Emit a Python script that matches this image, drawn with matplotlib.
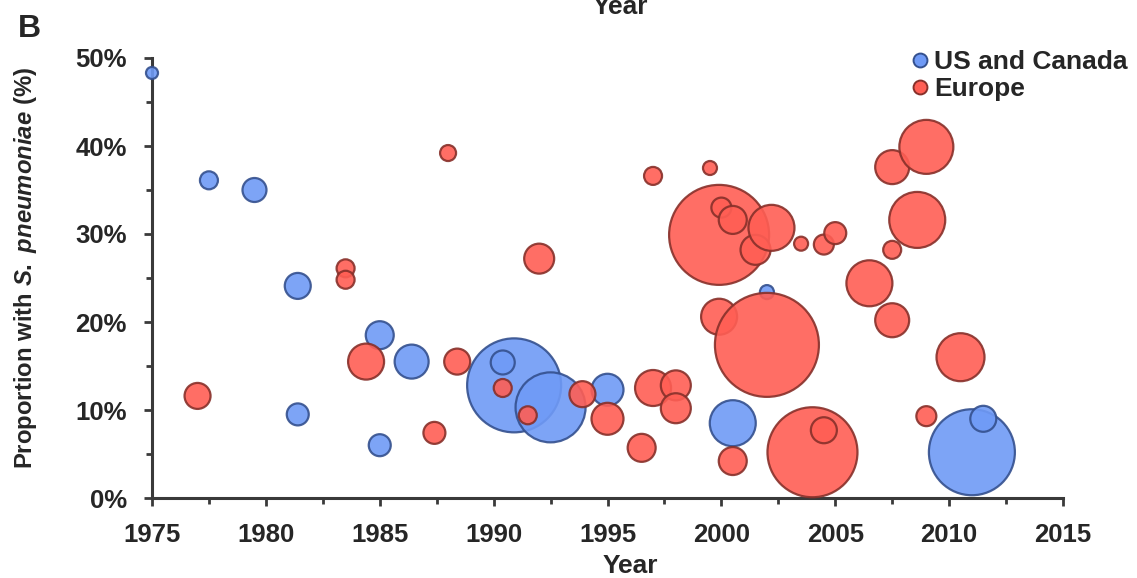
import matplotlib
matplotlib.use("Agg")
import matplotlib.pyplot as plt
from matplotlib.ticker import MultipleLocator, FuncFormatter
from matplotlib.lines import Line2D
import numpy as np

plt.rcParams["font.family"] = ["Liberation Sans", "DejaVu Sans"]
plt.rcParams["mathtext.fontset"] = "custom"
plt.rcParams["mathtext.it"] = "Liberation Sans:bold:italic"
plt.rcParams["mathtext.rm"] = "Liberation Sans:bold"

# US and Canada studies: year, proportion (%), relative bubble size
us_year = [1975.0, 1977.5, 1979.5, 1981.4, 1981.4, 1985.0, 1985.0, 1986.4,
           1990.9, 1990.4, 1992.5, 1995.0, 2000.5, 2002.0, 2011.0, 2011.5]
us_pct = [48.3, 36.1, 35.0, 24.1, 9.5, 18.5, 6.0, 15.5,
          12.8, 15.4, 10.3, 12.3, 8.5, 23.4, 5.2, 9.0]
us_size = [6, 9, 12, 13, 11, 14, 11, 17,
           47, 12, 35, 16, 23, 7, 43, 13]

# Europe studies
eu_year = [1977.0, 1983.5, 1983.5, 1984.4, 1988.0, 1987.4, 1988.4, 1990.4,
           1991.5, 1992.0, 1993.9, 1995.0, 1996.5, 1997.0, 1998.0, 1998.0,
           1997.0, 1999.5, 1999.9, 2000.0, 2000.5, 2001.5, 2002.2, 2003.5,
           2004.5, 2005.0, 1999.9, 2002.0, 2000.5, 2004.0, 2004.5, 2006.5,
           2007.5, 2007.5, 2009.0, 2008.6, 2007.5, 2010.5, 2009.0]
eu_pct = [11.6, 26.1, 24.8, 15.5, 39.2, 7.4, 15.5, 12.5,
          9.4, 27.2, 11.8, 9.0, 5.7, 12.5, 12.8, 10.2,
          36.6, 37.5, 29.9, 33.0, 31.6, 28.2, 30.7, 28.9,
          28.8, 30.1, 20.6, 17.4, 4.2, 5.2, 7.7, 24.4,
          20.2, 37.6, 39.9, 31.6, 28.2, 16.0, 9.3]
eu_size = [13, 9, 9, 18, 8, 11, 13, 9,
           9, 15, 13, 16, 14, 18, 15, 15,
           9, 7, 50, 10, 14, 15, 23, 7,
           10, 11, 18, 52, 14, 45, 13, 23,
           17, 17, 27, 28, 9, 24, 10]

blue_face = "#6f9af6"
blue_edge = "#34508e"
red_face = "#ff5e54"
red_edge = "#87302a"
axis_col = "#3a3a3a"
text_col = "#262626"


def area(sizes):
    # bubble radius in px -> scatter area in pt^2
    return (2 * 0.72 * np.asarray(sizes, dtype=float)) ** 2


fig = plt.figure(figsize=(11.37, 5.78), dpi=100)
ax = fig.add_axes([152 / 1137, 1 - 498 / 578, (1063 - 152) / 1137, (498 - 58) / 578])

ax.scatter(us_year, np.asarray(us_pct) / 100, s=area(us_size), facecolor=blue_face,
           edgecolor=blue_edge, linewidth=1.6, alpha=0.9, clip_on=False, zorder=3)
ax.scatter(eu_year, np.asarray(eu_pct) / 100, s=area(eu_size), facecolor=red_face,
           edgecolor=red_edge, linewidth=1.6, alpha=0.9, clip_on=False, zorder=3)

ax.set_xlim(1975, 2015)
ax.set_ylim(0, 0.5)
ax.xaxis.set_major_locator(MultipleLocator(5))
ax.xaxis.set_minor_locator(MultipleLocator(2.5))
ax.yaxis.set_major_locator(MultipleLocator(0.1))
ax.yaxis.set_minor_locator(MultipleLocator(0.05))
ax.yaxis.set_major_formatter(FuncFormatter(lambda v, _: f"{v * 100:.0f}%"))

for side in ["top", "right"]:
    ax.spines[side].set_visible(False)
for side in ["left", "bottom"]:
    ax.spines[side].set_color(axis_col)
    ax.spines[side].set_linewidth(2.2)

ax.tick_params(which="major", direction="out", length=6, width=2, color=axis_col,
               labelsize=18.5, labelcolor=text_col)
ax.tick_params(which="minor", direction="out", length=4, width=2, color=axis_col)
ax.tick_params(axis="y", pad=12)
ax.tick_params(axis="x", pad=12)
for lab in ax.get_xticklabels() + ax.get_yticklabels():
    lab.set_fontweight("bold")

fig.text(630 / 1137, 1 - 566 / 578, "Year", ha="center", va="center",
         fontsize=19, fontweight="bold", color=text_col)
fig.text(620 / 1137, 1 - 14 / 578, "Year", ha="center", va="baseline",
         fontsize=19, fontweight="bold", color=text_col)
fig.text(18 / 1137, 1 - 37 / 578, "B", ha="left", va="baseline",
         fontsize=23, fontweight="bold", color=text_col)
fig.text(26 / 1137, 1 - 268 / 578, r"Proportion with $\mathit{S.\ pneumoniae}$ (%)",
         rotation=90, ha="center", va="center", fontsize=17.2, fontweight="bold",
         color=text_col)

handles = [
    Line2D([], [], linestyle="none", marker="o", markersize=10,
           markerfacecolor=blue_face, markeredgecolor=blue_edge, markeredgewidth=1.4),
    Line2D([], [], linestyle="none", marker="o", markersize=10,
           markerfacecolor=red_face, markeredgecolor=red_edge, markeredgewidth=1.4),
]
leg = fig.legend(handles, ["US and Canada", "Europe"], loc="upper left",
                 bbox_to_anchor=(912 / 1137, 1 - 50 / 578), frameon=False,
                 handlelength=0.6, handletextpad=0.25, labelspacing=0.12,
                 borderpad=0, borderaxespad=0,
                 prop={"size": 19, "weight": "bold"})
for t in leg.get_texts():
    t.set_color(text_col)

fig.savefig("out.png", dpi=100)
